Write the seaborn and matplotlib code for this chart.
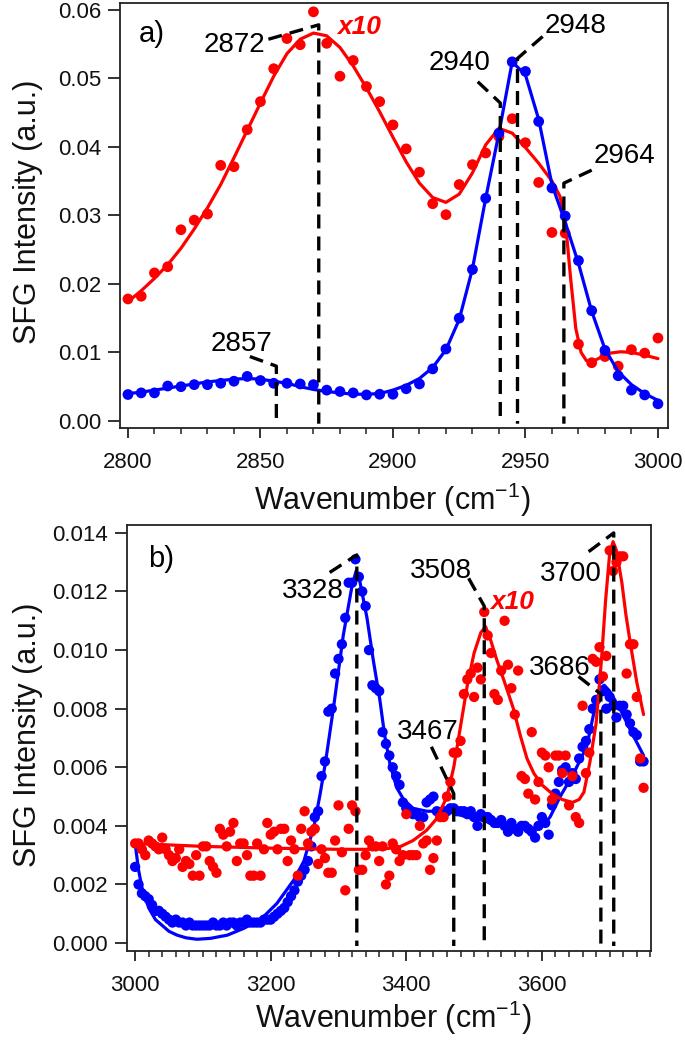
import numpy as np
import matplotlib
matplotlib.use("Agg")
import matplotlib.pyplot as plt
import seaborn as sns
from matplotlib.ticker import MultipleLocator, FormatStrFormatter

# ---------------- panel a) data (2800-3000 cm-1) ----------------
wn_a = np.arange(2800, 3001, 5)
red_a = [0.0178, 0.0182, 0.0216, 0.0225, 0.0279, 0.0293, 0.0302, 0.0373, 0.0371, 0.0425,
         0.0466, 0.0514, 0.0558, 0.0549, 0.0597, 0.0551, 0.0503, 0.0526, 0.0488, 0.0466,
         0.0432, 0.0397, 0.0363, 0.0317, 0.0301, 0.0345, 0.0374, 0.0391, 0.0415, 0.0441,
         0.0406, 0.0348, 0.0275, 0.0274, 0.0112, 0.0085, 0.0094, 0.0080, 0.0104, 0.0099,
         0.0121]
blue_a = [0.00386, 0.0041, 0.0041, 0.0051, 0.0050, 0.0053, 0.0053, 0.0055, 0.0058, 0.0065,
          0.0059, 0.0055, 0.0055, 0.0054, 0.0053, 0.0045, 0.0043, 0.0041, 0.0038, 0.0039,
          0.0039, 0.0047, 0.0054, 0.0076, 0.0105, 0.0150, 0.0221, 0.0325, 0.0420, 0.0524,
          0.0510, 0.0437, 0.0340, 0.0299, 0.0234, 0.0161, 0.0103, 0.0066, 0.0045, 0.0038,
          0.0025]
fit_blue_a = [0.0040, 0.0042, 0.0045, 0.0048, 0.0051, 0.0054, 0.0057, 0.0059, 0.0061, 0.0062,
              0.0061, 0.0058, 0.0055, 0.0050, 0.0046, 0.0043, 0.0041, 0.0039, 0.0039, 0.0040,
              0.0045, 0.0052, 0.0062, 0.0078, 0.0104, 0.0148, 0.0222, 0.0325, 0.0420, 0.0524,
              0.0505, 0.0440, 0.0345, 0.0290, 0.0230, 0.0160, 0.0105, 0.0072, 0.0053, 0.0040,
              0.0030]
fit_red_a_x = [2800, 2805, 2810, 2815, 2820, 2825, 2830, 2835, 2840, 2845, 2850, 2855, 2860,
               2865, 2870, 2875, 2880, 2885, 2890, 2895, 2900, 2905, 2910, 2915, 2920, 2925,
               2930, 2935, 2940, 2945, 2950, 2955, 2960, 2963, 2965, 2967, 2969, 2971, 2973,
               2975, 2978, 2982, 2986, 2990, 2995, 3000]
fit_red_a = [0.0174, 0.0190, 0.0208, 0.0228, 0.0252, 0.0280, 0.0311, 0.0345, 0.0384, 0.0424,
             0.0464, 0.0503, 0.0536, 0.0557, 0.0566, 0.0562, 0.0545, 0.0518, 0.0486, 0.0451,
             0.0414, 0.0378, 0.0347, 0.0326, 0.0319, 0.0331, 0.0362, 0.0403, 0.0427, 0.0420,
             0.0399, 0.0376, 0.0350, 0.0328, 0.0295, 0.0210, 0.0135, 0.0100, 0.0088, 0.0086,
             0.0092, 0.0099, 0.0101, 0.0100, 0.0096, 0.0091]

# peak annotations a): label, line position, line top, connector end, text position
peaks_a_label = ["2857", "2872", "2940", "2948", "2964"]
peaks_a_x = [2856, 2872, 2940.5, 2947, 2964.5]
peaks_a_top = [0.0080, 0.0578, 0.0464, 0.0529, 0.0347]
peaks_a_end_x = [2846, 2853, 2932, 2956.5, 2975]
peaks_a_end_y = [0.0094, 0.0557, 0.0495, 0.0561, 0.0366]
peaks_a_tx = [2843, 2840, 2925, 2969, 2987.5]
peaks_a_ty = [0.0113, 0.0549, 0.0522, 0.0577, 0.0386]

# ---------------- panel b) data (3000-3750 cm-1) ----------------
wn_b = np.arange(3000, 3751, 5)
blue_b = [0.0026, 0.0020, 0.0017, 0.0016, 0.0015, 0.0013, 0.0011, 0.0011, 0.0010, 0.0009,
          0.0008, 0.0007, 0.0008, 0.0007, 0.0007, 0.0006, 0.0007, 0.0006, 0.0006, 0.0006,
          0.0006, 0.0006, 0.0006, 0.0007, 0.0006, 0.0006, 0.0007, 0.0006, 0.0007, 0.0007,
          0.0006, 0.0007, 0.0007, 0.0008, 0.0007, 0.0007, 0.0007, 0.0007, 0.0008, 0.0008,
          0.0008, 0.0009, 0.0010, 0.0011, 0.0012, 0.0014, 0.0016, 0.0018, 0.0021, 0.0023,
          0.0025, 0.0028, 0.0033, 0.0043, 0.0045, 0.0057, 0.0062, 0.0079, 0.0080, 0.0092,
          0.0097, 0.0102, 0.0111, 0.0123, 0.0123, 0.0131, 0.0125, 0.0120, 0.0115, 0.0100,
          0.0088, 0.0087, 0.0086, 0.0072, 0.0068, 0.0064, 0.0060, 0.0057, 0.0054, 0.0048,
          0.0046, 0.0045, 0.0044, 0.0044, 0.0043, 0.0043, 0.0048, 0.0049, 0.0050, 0.0045,
          0.0044, 0.0045, 0.0045, 0.0046, 0.0046, 0.0045, 0.0045, 0.0045, 0.0044, 0.0045,
          0.0043, 0.0040, 0.0044, 0.0043, 0.0043, 0.0042, 0.0041, 0.0041, 0.0042, 0.0040,
          0.0038, 0.0041, 0.0039, 0.0038, 0.0040, 0.0040, 0.0039, 0.0038, 0.0036, 0.0040,
          0.0043, 0.0041, 0.0037, 0.0047, 0.0051, 0.0055, 0.0059, 0.0060, 0.0055, 0.0058,
          0.0056, 0.0063, 0.0067, 0.0069, 0.0073, 0.0080, 0.0083, 0.0090, 0.0086, 0.0080,
          0.0084, 0.0081, 0.0077, 0.0081, 0.0081, 0.0078, 0.0075, 0.0072, 0.0071, 0.0062,
          0.0062]
red_b = [0.0034, 0.0034, 0.0032, 0.0030, 0.0035, 0.0034, 0.0033, 0.0032, 0.0036, 0.0032,
         0.0030, 0.0028, 0.0029, 0.0032, 0.0026, 0.0028, 0.0027, 0.0023, 0.0030, 0.0023,
         0.0033, 0.0033, 0.0028, 0.0026, 0.0024, 0.0039, 0.0037, 0.0033, 0.0038, 0.0041,
         0.0028, 0.0034, 0.0034, 0.0030, 0.0023, 0.0023, 0.0034, 0.0023, 0.0032, 0.0041,
         0.0037, 0.0038, 0.0032, 0.0039, 0.0039, 0.0028, 0.0035, 0.0032, 0.0023, 0.0039,
         0.0045, 0.0034, 0.0038, 0.0039, 0.0027, 0.0032, 0.0029, 0.0024, 0.0024, 0.0035,
         0.0047, 0.0031, 0.0018, 0.0039, 0.0047, 0.0045, 0.0025, 0.0025, 0.0030, 0.0035,
         0.0033, 0.0033, 0.0028, 0.0033, 0.0020, 0.0023, 0.0034, 0.0032, 0.0028, 0.0030,
         0.0044, 0.0030, 0.0030, 0.0030, 0.0040, 0.0034, 0.0035, 0.0025, 0.0029, 0.0035,
         0.0043, 0.0043, 0.0050, 0.0055, 0.0065, 0.0065, 0.0069, 0.0085, 0.0090, 0.0092,
         0.0084, 0.0094, 0.0090, 0.0113, 0.0105, 0.0099, 0.0085, 0.0083, 0.0093, 0.0110,
         0.0095, 0.0087, 0.0078, 0.0093, 0.0057, 0.0056, 0.0051, 0.0072, 0.0049, 0.0055,
         0.0065, 0.0064, 0.0060, 0.0049, 0.0064, 0.0064, 0.0058, 0.0064, 0.0047, 0.0057,
         0.0043, 0.0041, 0.0081, 0.0058, 0.0065, 0.0097, 0.0096, 0.0101, 0.0091, 0.0098,
         0.0134, 0.0127, 0.0130, 0.0132, 0.0132, 0.0092, 0.0102, 0.0102, 0.0084, 0.0063,
         0.0053]
fit_blue_b_x = [3000, 3005, 3010, 3020, 3030, 3040, 3050, 3062, 3075, 3091, 3111, 3136, 3160,
                3185, 3209, 3234, 3249, 3264, 3273, 3281, 3293, 3307, 3320, 3326, 3331, 3342,
                3351, 3361, 3368, 3376, 3386, 3396, 3410, 3430, 3460, 3490, 3510, 3540, 3560,
                3585, 3600, 3612, 3627, 3647, 3666, 3678, 3686, 3692, 3700, 3715, 3730, 3750]
fit_blue_b = [0.0034, 0.0025, 0.0019, 0.0012, 0.0008, 0.0006, 0.0004, 0.00027, 0.00018,
              0.00013, 0.00016, 0.00027, 0.0005, 0.0008, 0.00135, 0.00215, 0.0028, 0.0040,
              0.0051, 0.0062, 0.0081, 0.0105, 0.0122, 0.0127, 0.0124, 0.0111, 0.0097, 0.0083,
              0.0071, 0.0061, 0.0053, 0.0049, 0.0046, 0.0045, 0.0045, 0.0043, 0.0042, 0.0040,
              0.0039, 0.0039, 0.0040, 0.0043, 0.0050, 0.0058, 0.0067, 0.0080, 0.0087, 0.0088,
              0.0086, 0.0080, 0.0073, 0.0064]
fit_red_b_x = [3000, 3050, 3100, 3150, 3200, 3250, 3300, 3340, 3370, 3390, 3410, 3430, 3445,
               3460, 3470, 3480, 3490, 3500, 3510, 3517, 3525, 3533, 3545, 3558, 3568, 3578,
               3588, 3600, 3615, 3630, 3645, 3655, 3662, 3671, 3680, 3688, 3694, 3700, 3705,
               3710, 3718, 3724, 3730, 3740, 3750]
fit_red_b = [0.00340, 0.00335, 0.00330, 0.00327, 0.00324, 0.00322, 0.00320, 0.00320, 0.00322,
             0.00328, 0.00350, 0.00385, 0.00425, 0.00500, 0.00600, 0.00740, 0.00880, 0.00990,
             0.01060, 0.01080, 0.01030, 0.00970, 0.00890, 0.00800, 0.00710, 0.00630, 0.00580,
             0.00540, 0.00510, 0.00490, 0.00480, 0.00490, 0.00515, 0.00620, 0.00750, 0.00970,
             0.01170, 0.01330, 0.01370, 0.01340, 0.01230, 0.01120, 0.01030, 0.00890, 0.00780]

peaks_b_label = ["3328", "3467", "3508", "3686", "3700"]
peaks_b_x = [3327, 3470, 3515, 3687, 3706]
peaks_b_top = [0.01325, 0.0051, 0.0115, 0.0085, 0.0140]
peaks_b_end_x = [3287, 3437, 3492, 3654, 3669]
peaks_b_end_y = [0.01265, 0.0067, 0.01245, 0.0091, 0.01336]
peaks_b_tx = [3262, 3432, 3451, 3627, 3642]
peaks_b_ty = [0.0120, 0.0072, 0.0127, 0.0094, 0.0126]

RED = "#ff0000"
BLUE = "#0000ff"

sns.set_style("ticks")
plt.rcParams['font.family'] = ['Liberation Sans', 'DejaVu Sans']
plt.rcParams['mathtext.fontset'] = 'custom'
plt.rcParams['mathtext.rm'] = 'Liberation Sans'
plt.rcParams['mathtext.it'] = 'Liberation Sans:italic'
plt.rcParams['axes.linewidth'] = 1.3
plt.rcParams['axes.edgecolor'] = '#222222'

fig = plt.figure(figsize=(6.85, 10.4), dpi=100)
ax1 = fig.add_axes([0.1752, 0.5885, 0.8000, 0.4087])
ax2 = fig.add_axes([0.1854, 0.0856, 0.7650, 0.4096])

DASH = (0, (4.2, 2.4))


def style_axes(ax, xmaj, xmin, ymaj, yfmt):
    ax.xaxis.set_major_locator(MultipleLocator(xmaj))
    ax.xaxis.set_minor_locator(MultipleLocator(xmin))
    ax.yaxis.set_major_locator(MultipleLocator(ymaj))
    ax.yaxis.set_major_formatter(FormatStrFormatter(yfmt))
    ax.tick_params(axis='both', which='major', direction='out', length=8.5, width=1.3,
                   labelsize=16, color='#222222', labelcolor='#111111')
    ax.tick_params(axis='x', which='major', length=7, pad=10)
    ax.tick_params(axis='y', which='major', pad=5)
    ax.tick_params(axis='x', which='minor', direction='out', length=4.5, width=1.1,
                   color='#222222')
    for sp in ax.spines.values():
        sp.set_visible(True)
    ax.set_xlabel("Wavenumber (cm$^{-1}$)", fontsize=22, color='#111111')
    ax.set_ylabel("SFG Intensity (a.u.)", fontsize=22, color='#111111')
    ax.grid(False)


def annotate(ax, labels, xs, tops, ex, ey, tx, ty, ybot):
    for lab, x, t, x2, y2, xt, yt in zip(labels, xs, tops, ex, ey, tx, ty):
        ax.plot([x2, x, x], [y2, t, ybot], color='black', lw=2.4, linestyle=DASH,
                zorder=6, solid_capstyle='butt', dash_capstyle='butt')
        ax.text(xt, yt, lab, fontsize=20, ha='center', va='center', color='black', zorder=7)


# ---- panel a ----
sns.lineplot(x=fit_red_a_x, y=fit_red_a, ax=ax1, color=RED, lw=2.3, sort=False,
             estimator=None, zorder=3)
sns.scatterplot(x=wn_a, y=red_a, ax=ax1, color=RED, s=60, edgecolor='none', linewidth=0,
                zorder=3)
sns.lineplot(x=wn_a, y=fit_blue_a, ax=ax1, color=BLUE, lw=2.3, sort=False,
             estimator=None, zorder=4)
sns.scatterplot(x=wn_a, y=blue_a, ax=ax1, color=BLUE, s=60, edgecolor='none', linewidth=0,
                zorder=4)
ax1.set_xlim(2797, 3003.8)
ax1.set_ylim(-0.00102, 0.0610)
style_axes(ax1, 50, 10, 0.01, '%.2f')
annotate(ax1, peaks_a_label, peaks_a_x, peaks_a_top, peaks_a_end_x, peaks_a_end_y,
         peaks_a_tx, peaks_a_ty, -0.0004)
ax1.text(2804, 0.0564, "a)", fontsize=21, ha='left', va='center', color='black')
ax1.text(2879, 0.0575, "x10", fontsize=19, ha='left', va='center', color=RED,
         fontweight='bold', fontstyle='italic')
ax1.xaxis.set_label_coords(0.496, -0.168)
ax1.xaxis.label.set_verticalalignment('center')
ax1.yaxis.set_label_coords(-0.168, 0.508)
ax1.yaxis.label.set_verticalalignment('center')

# ---- panel b ----
sns.lineplot(x=fit_blue_b_x, y=fit_blue_b, ax=ax2, color=BLUE, lw=2.3, sort=False,
             estimator=None, zorder=3)
sns.scatterplot(x=wn_b, y=blue_b, ax=ax2, color=BLUE, s=55, edgecolor='none', linewidth=0,
                zorder=3)
sns.lineplot(x=fit_red_b_x, y=fit_red_b, ax=ax2, color=RED, lw=2.3, sort=False,
             estimator=None, zorder=4)
sns.scatterplot(x=wn_b, y=red_b, ax=ax2, color=RED, s=55, edgecolor='none', linewidth=0,
                zorder=4)
ax2.set_xlim(2988, 3761)
ax2.set_ylim(-0.00027, 0.01427)
style_axes(ax2, 200, 20, 0.002, '%.3f')
annotate(ax2, peaks_b_label, peaks_b_x, peaks_b_top, peaks_b_end_x, peaks_b_end_y,
         peaks_b_tx, peaks_b_ty, -0.0001)
ax2.text(3019, 0.0131, "b)", fontsize=21, ha='left', va='center', color='black')
ax2.text(3524, 0.01165, "x10", fontsize=19, ha='left', va='center', color=RED,
         fontweight='bold', fontstyle='italic')
ax2.xaxis.set_label_coords(0.508, -0.158)
ax2.xaxis.label.set_verticalalignment('center')
ax2.yaxis.set_label_coords(-0.189, 0.507)
ax2.yaxis.label.set_verticalalignment('center')

fig.savefig("out.png", dpi=100)
